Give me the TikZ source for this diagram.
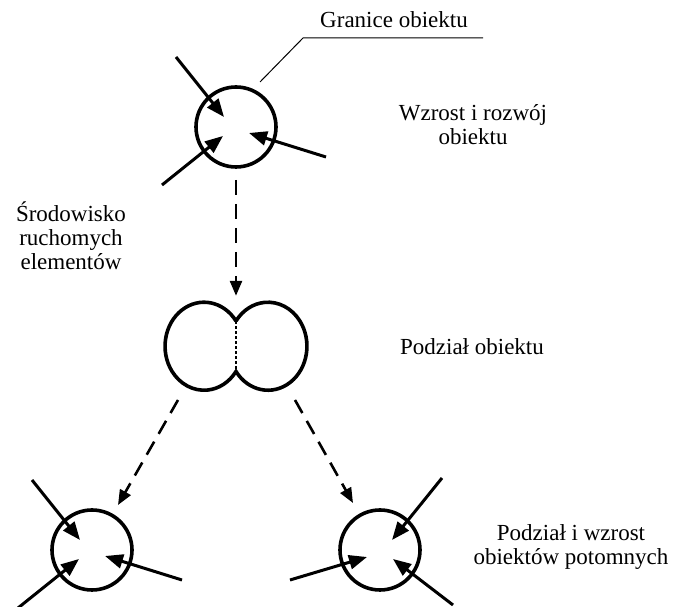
\documentclass[tikz,border=0pt]{standalone}
\usepackage{fontspec}
\setmainfont{Liberation Serif}
\usetikzlibrary{arrows.meta, calc}

\begin{document}
\begin{tikzpicture}[
    % GLOBAL CFG
    x=1pt, y=1pt,
    font=\fontsize{23}{24}\selectfont,
    >={Triangle[length=18pt,width=14pt]},
    % Styles
    object/.style={% For the round objects
        circle,
        draw,
        line width=3.6pt,
        minimum size=80pt,
        inner sep=0pt,
        },
    feed/.style={% Arrows coming from the surroundings
        ->,
        line width=3pt,
        },
    spawn/.style={% Dashed arrows between the stages
        -{Triangle[length=15pt,width=12pt]},
        line width=2.6pt,
        dash pattern=on 15pt off 9pt,
        },
    lobe/.style={% Outline of the dividing object
        line width=3.6pt,
        },
    split/.style={% Dividing line
        line width=1.8pt,
        dash pattern=on 3pt off 2pt,
        },
    leader/.style={% Thin line to a label
        line width=1pt,
        },
    mylabel/.style={% Texts
        align=center,
        inner sep=0pt,
        },
    ]
    \useasboundingbox (0,0) rectangle (675,607);

    % Draw the objects
    \node [object] (top) at (236,480) {};
    \node [minimum width=142pt, minimum height=88pt, inner sep=0pt] (div) at (236,261) {};
    \node [object] (kidL) at (92,57) {};
    \node [object] (kidR) at (380,57) {};

    % Dividing object: two lobes
    \coordinate (notchT) at ($(div.center)+(0,25)$);
    \coordinate (notchB) at ($(div.center)+(0,-25)$);
    \draw [lobe] (notchT) arc[start angle=35, end angle=325, x radius=39pt, y radius=44pt]
        arc[start angle=215, end angle=505, x radius=39pt, y radius=44pt];
    \draw [split] (notchT) -- (notchB);

    % Arrows from the surroundings
    \foreach \obj in {top, kidL}
      \foreach \tx/\ty/\hx/\hy [count=\i] in {-60/70/-12/10, -74/-58/-13/-9, 90/-30/13/-6}{
        \coordinate (\obj-t\i) at ($(\obj)+(\tx,\ty)$);
        \coordinate (\obj-h\i) at ($(\obj)+(\hx,\hy)$);
        \draw [feed] (\obj-t\i) -- (\obj-h\i);
      }
    \foreach \tx/\ty/\hx/\hy [count=\i] in {62/72/12/10, -90/-30/-13/-7, 73/-55/13/-9}{
        \coordinate (kidR-t\i) at ($(kidR)+(\tx,\ty)$);
        \coordinate (kidR-h\i) at ($(kidR)+(\hx,\hy)$);
        \draw [feed] (kidR-t\i) -- (kidR-h\i);
      }

    % Stages
    \coordinate (sL) at (178,207);
    \coordinate (eL) at (118,102);
    \coordinate (sR) at (295,207);
    \coordinate (eR) at (353,104);
    \draw [spawn, shorten <=11pt, shorten >=6pt] (top.south) -- (div.north);
    \draw [spawn] (sL) -- (eL);
    \draw [spawn] (sR) -- (eR);

    % Labels
    \coordinate (lead0) at ($(top)+(24,45)$);
    \coordinate (lead1) at (303,569);
    \coordinate (lead2) at (483,569);
    \draw [leader] (lead0) -- (lead1) -- (lead2);
    \node [mylabel, anchor=base] (granice) at (394,579) {Granice obiektu};
    \node [mylabel] (wzrost) at (473,482) {Wzrost i rozwój\\obiektu};
    \node [mylabel] (env) at (71,371) {Środowisko\\ruchomych\\elementów};
    \node [mylabel, anchor=base] (podzial) at (472,252) {Podział obiektu};
    \node [mylabel] (potomne) at (571,60) {Podział i wzrost\\obiektów potomnych};

  \end{tikzpicture}
\end{document}
